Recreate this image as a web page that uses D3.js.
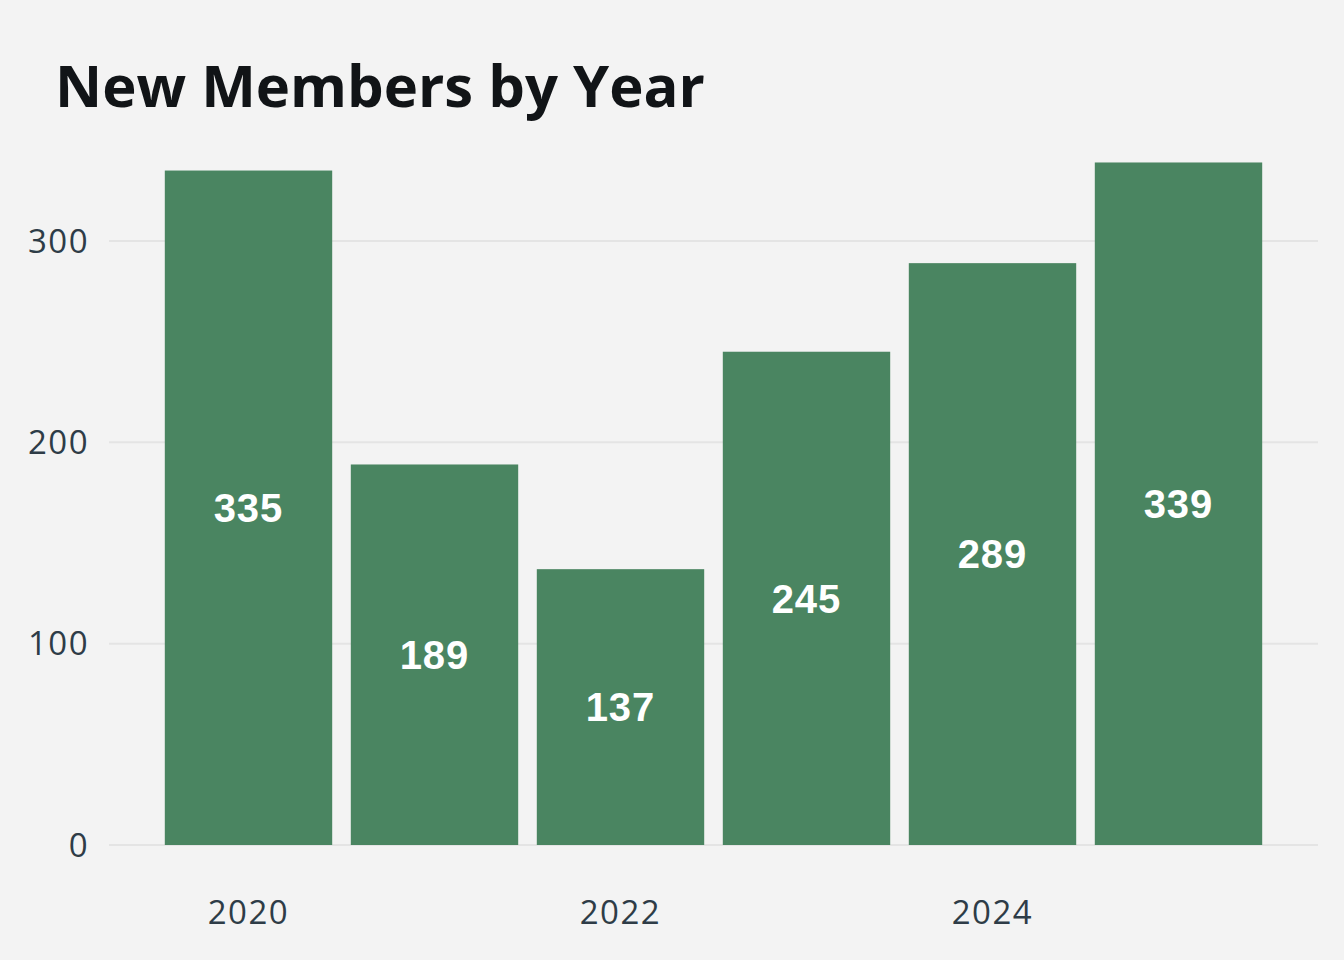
<!DOCTYPE html>
<html>
<head>
<meta charset="utf-8">
<script src="https://cdn.jsdelivr.net/npm/d3@7"></script>
<style>
  html, body { margin: 0; padding: 0; background: #f3f3f3; }
  #chart { width: 1344px; height: 960px; }
</style>
</head>
<body>
<div id="chart"></div>
<script>
(function() {
    const years = ["2020", "2021", "2022", "2023", "2024", "2025"];
    const newMembers = [335, 189, 137, 245, 289, 339];
    const yTicks = [0, 100, 200, 300];
    const xTickLabels = ["2020", "2022", "2024"];

    const width = 1344;
    const height = 960;
    const margin = { top: 140, right: 26, bottom: 115, left: 109 };

    const svg = d3.select("#chart")
        .append("svg")
        .attr("width", width)
        .attr("height", height);

    svg.append("rect")
        .attr("width", width)
        .attr("height", height)
        .attr("fill", "#f3f3f3");

    const x = d3.scaleBand()
        .domain(years)
        .range([margin.left, width - margin.right])
        .paddingInner(0.1)
        .paddingOuter(0.3);

    // 0 sits at 845, 300 at 241
    const y = d3.scaleLinear()
        .domain([0, 300])
        .range([845, 241]);

    // gridlines
    svg.append("g")
        .selectAll("line")
        .data(yTicks)
        .enter().append("line")
        .attr("x1", margin.left)
        .attr("x2", width - margin.right)
        .attr("y1", d => y(d))
        .attr("y2", d => y(d))
        .attr("stroke", "#e4e4e4")
        .attr("stroke-width", 2);

    // y tick labels
    svg.append("g")
        .selectAll("text")
        .data(yTicks)
        .enter().append("text")
        .attr("x", 89)
        .attr("y", d => y(d))
        .attr("dy", "0.35em")
        .attr("text-anchor", "end")
        .style("font-family", "'Open Sans', sans-serif")
        .style("font-size", "33px")
        .style("letter-spacing", "1.5px")
        .style("fill", "#2e3c47")
        .text(d => d);

    // bars
    svg.append("g")
        .selectAll("rect")
        .data(newMembers)
        .enter().append("rect")
        .attr("x", (d, i) => x(years[i]))
        .attr("y", d => y(d))
        .attr("width", x.bandwidth())
        .attr("height", d => y(0) - y(d))
        .attr("fill", "#4a8561");

    // value labels in the middle of each bar
    svg.append("g")
        .selectAll("text")
        .data(newMembers)
        .enter().append("text")
        .attr("x", (d, i) => x(years[i]) + x.bandwidth() / 2)
        .attr("y", d => (y(d) + y(0)) / 2)
        .attr("dy", "0.36em")
        .attr("text-anchor", "middle")
        .style("font-family", "'Liberation Sans', Arial, sans-serif")
        .style("font-weight", "bold")
        .style("font-size", "40px")
        .style("letter-spacing", "1px")
        .style("fill", "#ffffff")
        .text(d => d);

    // x tick labels, every other year
    svg.append("g")
        .selectAll("text")
        .data(xTickLabels)
        .enter().append("text")
        .attr("x", d => x(d) + x.bandwidth() / 2)
        .attr("y", 912)
        .attr("dy", "0.35em")
        .attr("text-anchor", "middle")
        .style("font-family", "'Open Sans', sans-serif")
        .style("font-size", "33px")
        .style("letter-spacing", "1.5px")
        .style("fill", "#2e3c47")
        .text(d => d);

    // title
    svg.append("text")
        .attr("x", 55)
        .attr("y", 107)
        .style("font-family", "'Open Sans', sans-serif")
        .style("font-weight", "bold")
        .style("font-size", "58px")
        .style("fill", "#111417")
        .text("New Members by Year");
})();
</script>
</body>
</html>
